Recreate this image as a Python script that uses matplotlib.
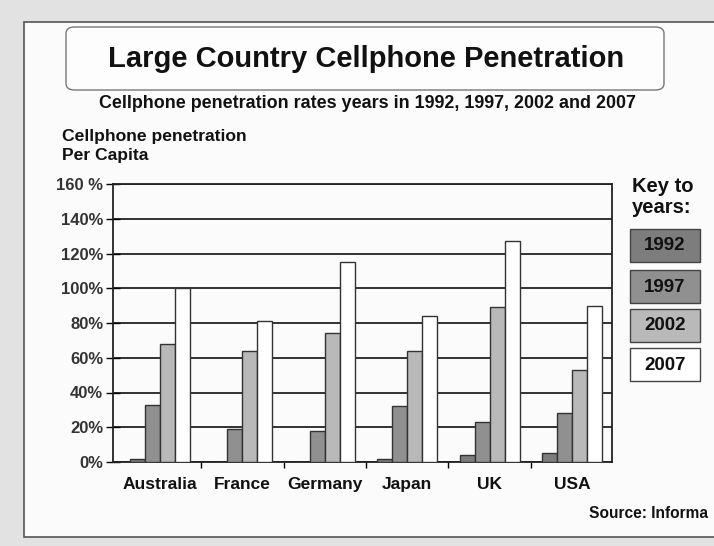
import matplotlib
matplotlib.use("Agg")
import matplotlib.pyplot as plt
from matplotlib.patches import Rectangle, FancyBboxPatch
import numpy as np

plt.rcParams['font.family'] = ['Liberation Sans', 'DejaVu Sans']
plt.rcParams['font.weight'] = 'bold'

countries = ["Australia", "France", "Germany", "Japan", "UK", "USA"]
years = ["1992", "1997", "2002", "2007"]
pen_1992 = [2, 0, 0, 2, 4, 5]
pen_1997 = [33, 19, 18, 32, 23, 28]
pen_2002 = [68, 64, 74, 64, 89, 53]
pen_2007 = [100, 81, 115, 84, 127, 90]
series = [pen_1992, pen_1997, pen_2002, pen_2007]
colors = ["#7d7d7d", "#909090", "#b9b9b9", "#ffffff"]
ytick_vals = [0, 20, 40, 60, 80, 100, 120, 140, 160]
ytick_labels = ["0%", "20%", "40%", "60%", "80%", "100%", "120%", "140%", "160 %"]

W, H = 714, 546
fig = plt.figure(figsize=(W / 100, H / 100), dpi=100)
fig.patch.set_facecolor("#e2e2e2")

def fx(px):
    return px / W

def fy(py):
    return 1 - py / H

# page
fig.patches.append(Rectangle((fx(24), fy(537)), fx(714 - 24) + 0.01, fy(22) - fy(537),
                             transform=fig.transFigure, facecolor="#fbfbfb",
                             edgecolor="#555555", linewidth=1.2, zorder=-5))

# title box
fig.patches.append(FancyBboxPatch((fx(66), fy(90)), fx(664 - 66), fy(27) - fy(90),
                                  boxstyle="round,pad=0,rounding_size=0.012",
                                  transform=fig.transFigure, facecolor="#fdfdfd",
                                  edgecolor="#777777", linewidth=1.0, zorder=-4))
fig.text(fx(366), fy(59), "Large Country Cellphone Penetration", ha="center", va="center",
         fontsize=21, fontweight="bold", color="#111111")
fig.text(fx(367), fy(103), "Cellphone penetration rates years in 1992, 1997, 2002 and 2007",
         ha="center", va="center", fontsize=12.9, fontweight="bold", color="#111111")
fig.text(fx(62), fy(146), "Cellphone penetration\nPer Capita", ha="left", va="center",
         fontsize=12.6, fontweight="bold", color="#111111", linespacing=1.3)

ax = fig.add_axes([fx(113), fy(462), fx(612 - 113), fy(184) - fy(462)], zorder=2)
ax.set_facecolor("#fbfbfb")
x = np.arange(len(countries))
bw = 0.182
offsets = [-1.5, -0.5, 0.5, 1.5]
for vals, col, off in zip(series, colors, offsets):
    ax.bar(x + off * bw, vals, width=bw, color=col, edgecolor="#333333",
           linewidth=1.0, zorder=3)

ax.set_xlim(-0.57, 5.485)
ax.set_ylim(0, 160)
ax.set_yticks(ytick_vals)
ax.set_yticklabels(ytick_labels, fontsize=12, fontweight="bold", color="#333333")
ax.yaxis.grid(True, color="#222222", linewidth=1.3, zorder=1)
ax.tick_params(axis="y", direction="inout", length=10, width=1.0, pad=2)
ax.set_xticks(np.arange(0.5, 5.0, 1.0), minor=False)
ax.set_xticklabels([])
ax.tick_params(axis="x", direction="out", length=4, width=1.0)
ax.set_xticks(x, minor=True)
ax.set_xticklabels(countries, minor=True, fontsize=12.5, fontweight="bold", color="#111111")
ax.tick_params(axis="x", which="minor", length=0, pad=11)
for s in ax.spines.values():
    s.set_color("#222222")
    s.set_linewidth(1.3)

# key to years
fig.text(fx(632), fy(197), "Key to\nyears:", ha="left", va="center", fontsize=14.5,
         fontweight="bold", color="#111111", linespacing=1.15)
key_tops = [229, 270, 309, 348]
for yr, col, top in zip(years, colors, key_tops):
    fig.patches.append(Rectangle((fx(630), fy(top + 33)), fx(70), fy(top) - fy(top + 33),
                                 transform=fig.transFigure, facecolor=col,
                                 edgecolor="#444444", linewidth=1.0, zorder=2))
    fig.text(fx(665), fy(top + 17), yr, ha="center", va="center", fontsize=13.5,
             fontweight="bold", color="#111111", zorder=3)

fig.text(fx(708), fy(513), "Source: Informa", ha="right", va="center", fontsize=11.2,
         fontweight="bold", color="#111111")

fig.savefig("out.png", dpi=100, facecolor=fig.get_facecolor())
